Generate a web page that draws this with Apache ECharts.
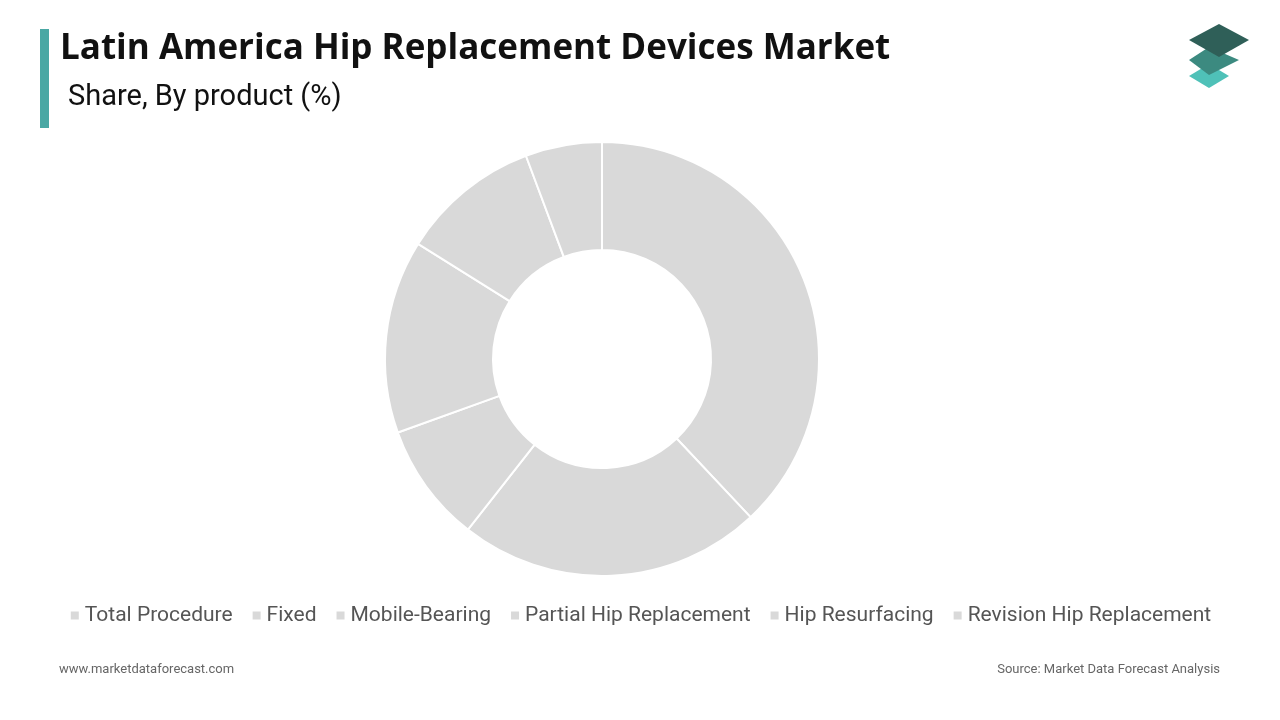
<!DOCTYPE html>
<html><head><meta charset="utf-8">
<script src="https://cdn.jsdelivr.net/npm/echarts@6/dist/echarts.min.js"></script>
<style>html,body{margin:0;padding:0;background:#fff}#c{width:1280px;height:720px}</style>
</head><body><div id="c"></div>
<script>
const categories = ["Total Procedure","Fixed","Mobile-Bearing","Partial Hip Replacement","Hip Resurfacing","Revision Hip Replacement"];
const values = [38.0, 22.6, 8.9, 14.4, 10.4, 5.7];
const chart = echarts.init(document.getElementById('c'));
chart.setOption({
  animation:false,
  graphic:[
    {type:'rect',shape:{x:40,y:29,width:9,height:99},style:{fill:'#4aa8a4'}},
    {type:'text',left:60,top:32,style:{text:'Latin America Hip Replacement Devices Market',font:'bold 35px "Open Sans", sans-serif',fill:'#111'}},
    {type:'text',left:68,top:83,style:{text:'Share, By product (%)',font:'29px Roboto, sans-serif',fill:'#111'}},
    {type:'text',left:59,top:663,style:{text:'www.marketdataforecast.com',font:'13px Roboto, sans-serif',fill:'#666'}},
    {type:'text',right:60,top:663,style:{text:'Source: Market Data Forecast Analysis',font:'13px Roboto, sans-serif',fill:'#666'}},
    {type:'polygon',shape:{points:[[1189,76],[1209,64],[1229,76],[1209,88]]},style:{fill:'#4fc1b8'}},
    {type:'polygon',shape:{points:[[1189,60],[1209,47],[1239,60],[1209,75]]},style:{fill:'#3c8a80'}},
    {type:'polygon',shape:{points:[[1189,40],[1219,24],[1249,40],[1219,57]]},style:{fill:'#2f5f58'}}
  ],
  legend:{bottom:89,left:'center',itemWidth:10,itemHeight:10,itemGap:18,icon:'rect',
    textStyle:{color:'#555',fontSize:21,fontFamily:'Roboto, sans-serif'},
    data:categories},
  color:['#d9d9d9'],
  series:[{type:'pie',radius:[109,217],center:[602,359],startAngle:90,clockwise:true,
    label:{show:false},labelLine:{show:false},
    itemStyle:{color:'#d9d9d9',borderColor:'#fff',borderWidth:2},
    emphasis:{disabled:true},
    data:categories.map((n,i)=>({name:n,value:values[i]}))}]
});
</script></body></html>
